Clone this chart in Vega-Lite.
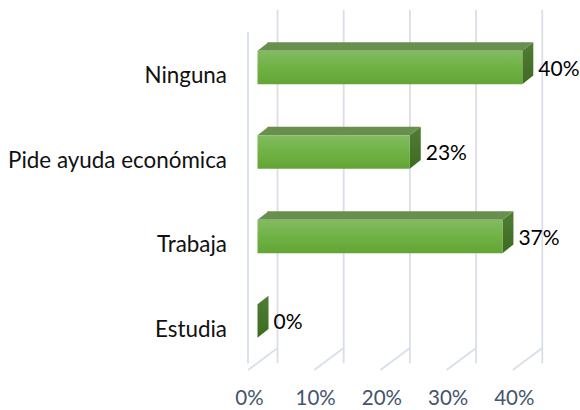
{
"$schema":"https://vega.github.io/schema/vega-lite/v6.json",
"width":322.5,"height":338,
"autosize":{"type":"none"},
"padding":{"left":257.5,"top":25.25,"right":0,"bottom":46.75},
"background":"white",
"config":{"view":{"stroke":null},"font":"Lato"},
"datasets":{
"rows":[{"cat":"Ninguna","value":40,"label":"40%","base":0},{"cat":"Pide ayuda económica","value":23,"label":"23%","base":0},{"cat":"Trabaja","value":37,"label":"37%","base":0},{"cat":"Estudia","value":0,"label":"0%","base":0}],
"ticks":[{"tick":0},{"tick":10},{"tick":20},{"tick":30},{"tick":40}]
},
"layer":[
{"data":{"name":"ticks"},"mark":{"type":"rule","color":"#d9dfe9","strokeWidth":1.8,"xOffset":20,"yOffset":-15.25},
 "encoding":{"x":{"field":"tick","type":"quantitative","scale":{"domain":[0,48.716],"nice":false,"zero":false},
  "axis":{"values":[0,10,20,30,40],"title":null,"grid":false,"domain":false,"ticks":false,"labelExpr":"datum.value + '%'","labelFontSize":20.5,"labelColor":"#44546a","labelPadding":25,"labelOffset":-8.5,"labelFlush":false}}}},
{"data":{"name":"ticks"},"transform":[{"filter":"datum.tick === 0"}],"mark":{"type":"rule","color":"#d9dfe9","strokeWidth":1.8,"xOffset":-9.5,"yOffset":6.75},
 "encoding":{"x":{"field":"tick","type":"quantitative"}}},
{"data":{"name":"ticks"},"mark":{"type":"point","shape":"M-9.5,175.75L20,153.75","size":4,"filled":false,"stroke":"#d9dfe9","strokeWidth":1.8,"opacity":1},
 "encoding":{"x":{"field":"tick","type":"quantitative"}}},
{"data":{"name":"rows"},"mark":{"type":"point","shape":"M0,-16.65L11,-25.3L11,8L0,16.65Z","size":4,"filled":true,"opacity":1,"strokeWidth":0,
  "fill":{"gradient":"linear","x1":0,"y1":0,"x2":0,"y2":1,"stops":[{"offset":0,"color":"#4f7d33"},{"offset":1,"color":"#3e6b22"}]}},
 "encoding":{"x":{"field":"value","type":"quantitative"},"y":{"field":"cat","type":"nominal","sort":null,
  "axis":{"title":null,"domain":false,"ticks":false,"labelFontSize":22.4,"labelColor":"#111111","labelPadding":31,"labelLimit":260,"labelOffset":8.5}}}},
{"data":{"name":"rows"},"transform":[{"filter":"datum.value > 0"}],"mark":{"type":"rule","strokeWidth":8.65,"x2Offset":10,"xOffset":1,"yOffset":-20.97,"color":"#688f4e"},
 "encoding":{"x":{"field":"value","type":"quantitative"},"x2":{"field":"base"},"y":{"field":"cat","type":"nominal","sort":null}}},
{"data":{"name":"rows"},"transform":[{"filter":"datum.value > 0"}],"mark":{"type":"point","shape":"M0,-16.65L11,-25.3L11,-16.65Z","size":4,"filled":true,"opacity":1,"strokeWidth":0,"fill":"#688f4e"},
 "encoding":{"x":{"field":"base","type":"quantitative"},"y":{"field":"cat","type":"nominal","sort":null}}},
{"data":{"name":"rows"},"transform":[{"filter":"datum.value > 0"}],"mark":{"type":"point","shape":"M0,-16.65L11,-25.3L0,-25.3Z","size":4,"filled":true,"opacity":1,"strokeWidth":0,"fill":"#688f4e"},
 "encoding":{"x":{"field":"value","type":"quantitative"},"y":{"field":"cat","type":"nominal","sort":null}}},
{"data":{"name":"rows"},"transform":[{"filter":"datum.value > 0"}],"mark":{"type":"bar","size":33.3,
  "fill":{"gradient":"linear","x1":0,"y1":0,"x2":0,"y2":1,"stops":[{"offset":0,"color":"#82bb60"},{"offset":0.55,"color":"#6eb142"},{"offset":1,"color":"#64a436"}]}},
 "encoding":{"x":{"field":"value","type":"quantitative"},"y":{"field":"cat","type":"nominal","sort":null}}},
{"data":{"name":"rows"},"mark":{"type":"text","align":"left","baseline":"middle","dx":16,"dy":2,"fontSize":21,"color":"#000000"},
 "encoding":{"x":{"field":"value","type":"quantitative"},"y":{"field":"cat","type":"nominal","sort":null},"text":{"field":"label","type":"nominal"}}}
]
}
